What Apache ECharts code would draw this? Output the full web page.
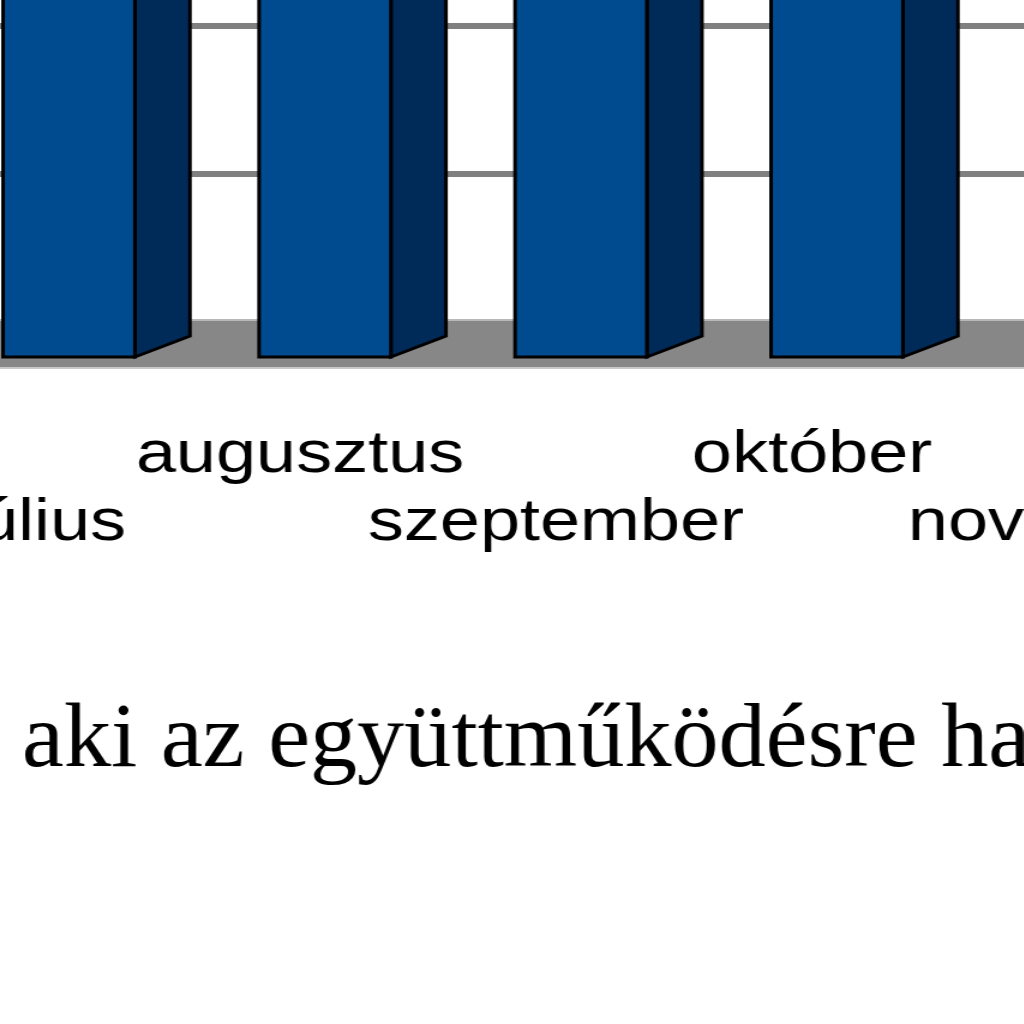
<!DOCTYPE html>
<html>
<head>
<meta charset="utf-8">
<script src="https://cdn.jsdelivr.net/npm/echarts@6/dist/echarts.min.js"></script>
<style>
html,body{margin:0;padding:0;width:1024px;height:1024px;overflow:hidden;background:#fff;}
#main{width:853.333px;height:1024px;transform:scaleX(1.2);transform-origin:0 0;}
</style>
</head>
<body>
<div id="main"></div>
<script>
// ---- data (bar tops run past the top of the visible area; values are estimates) ----
const categories = ['július', 'augusztus', 'szeptember', 'október', 'november'];
const values = [3.6, 3.4, 3.5, 3.3, 3.4];
const titleText = 'aki az együttműködésre ha';
const yMin = 0, yMax = 4, yInterval = 1;

// ---- layout / style ----
const S = 1.2;               // horizontal stretch of the whole picture
const W = 1024 / S;
const band = 256 / S;        // category band width in chart px

const chart = echarts.init(document.getElementById('main'), null, {renderer: 'canvas', width: W, height: 1024});

function renderBar(params, api) {
  const idx = api.value(0), v = api.value(1);
  const pt = api.coord([idx, v]);
  const base = api.coord([idx, 0])[1];
  const bw = api.size([1, 0])[0];
  const cx = pt[0], yT = pt[1];
  const fl = cx - 0.16 * bw, fr = cx + 0.355 * bw, sr = cx + 0.57 * bw;
  const dF = 35, dB = 14;
  return {
    type: 'group',
    children: [
      {type: 'polygon', shape: {points: [[fr, base + dF], [sr, base + dB], [sr, yT + dB], [fr, yT + dF]]},
        style: {fill: '#002a58', stroke: '#000', lineWidth: 3}},
      {type: 'polygon', shape: {points: [[fl, yT + dF], [fr, yT + dF], [sr, yT + dB], [fl + (sr - fr), yT + dB]]},
        style: {fill: '#1a63a8', stroke: '#000', lineWidth: 3}},
      {type: 'rect', shape: {x: fl, y: yT + dF, width: fr - fl, height: base - yT},
        style: {fill: '#004a8f', stroke: '#000', lineWidth: 3}}
    ]
  };
}

function renderFloor(params, api) {
  const cs = params.coordSys;
  const base = api.coord([0, 0])[1];
  return {
    type: 'group',
    children: [
      {type: 'rect', shape: {x: cs.x, y: base - 1, width: cs.width, height: 46}, style: {fill: '#878787'}},
      {type: 'rect', shape: {x: cs.x, y: base - 3, width: cs.width, height: 2}, style: {fill: '#b8b8b8'}},
      {type: 'rect', shape: {x: cs.x, y: base + 45, width: cs.width, height: 2}, style: {fill: '#c8c8c8'}}
    ]
  };
}

const gridLeft = 44 / S - band / 2;
const gridRight = W - (gridLeft + band * categories.length);

chart.setOption({
  animation: false,
  backgroundColor: '#fff',
  grid: {left: gridLeft, right: gridRight, top: -270, bottom: 702, outerBoundsMode: 'none', containLabel: false},
  xAxis: {
    type: 'category',
    data: categories,
    boundaryGap: true,
    axisLine: {show: false},
    axisTick: {show: false},
    splitLine: {show: false},
    axisLabel: {
      interval: 0,
      margin: 99,
      fontFamily: 'Liberation Sans',
      fontSize: 60,
      lineHeight: 68,
      color: '#000',
      formatter: (v, i) => (i % 2 === 0 ? '\n' + v : v)
    }
  },
  yAxis: {
    type: 'value',
    min: yMin, max: yMax, interval: yInterval,
    axisLine: {show: false},
    axisTick: {show: false},
    axisLabel: {show: false},
    splitLine: {show: true, lineStyle: {color: '#808080', width: 6}}
  },
  graphic: [{
    type: 'text',
    x: 22 / S,
    y: 742,
    scaleX: 1.025 / S,
    style: {
      text: titleText,
      fontFamily: 'Liberation Serif',
      fontSize: 92,
      fill: '#000',
      align: 'left',
      verticalAlign: 'middle'
    }
  }],
  series: [
    {type: 'custom', name: 'floor', silent: true, clip: false, z: 2,
      renderItem: renderFloor, data: [[0, 0]], encode: {x: 0, y: 1}},
    {type: 'custom', name: 'bars', silent: true, clip: false, z: 3,
      renderItem: renderBar, data: values.map((v, i) => [i, v]), encode: {x: 0, y: 1}}
  ]
});
</script>
</body>
</html>
